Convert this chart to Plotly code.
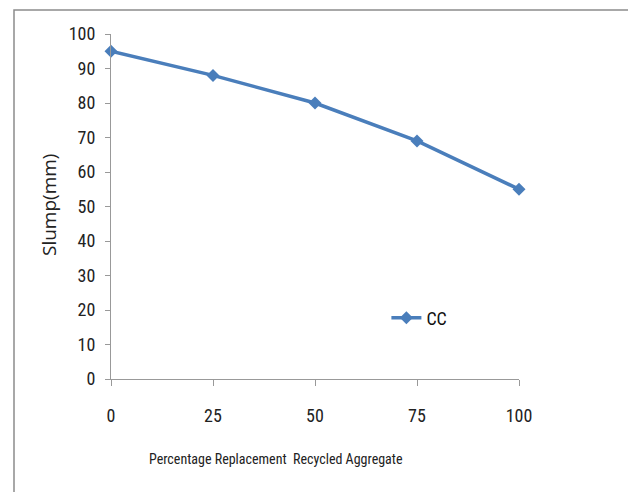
import plotly.graph_objects as go

replacement = [0, 25, 50, 75, 100]
slump_cc = [95, 88, 80, 69, 55]
x_ticks = [0, 25, 50, 75, 100]
y_ticks = [0, 10, 20, 30, 40, 50, 60, 70, 80, 90, 100]

FONT = "Roboto Condensed, Liberation Sans Narrow, sans-serif"
BLUE = "#4a7ebb"

fig = go.Figure()
fig.add_trace(go.Scatter(
    x=replacement, y=slump_cc, name="CC", mode="lines+markers",
    line=dict(color=BLUE, width=3.5),
    marker=dict(symbol="diamond", size=10, color=BLUE),
    cliponaxis=False,
))

fig.update_layout(
    width=628, height=492,
    margin=dict(l=111, r=109, t=34, b=113),
    paper_bgcolor="white", plot_bgcolor="white",
    font=dict(family=FONT, size=18, color="#222"),
    showlegend=True,
    legend=dict(x=0.675, y=0.177, xanchor="left", yanchor="middle",
                bgcolor="rgba(0,0,0,0)", font=dict(family=FONT, size=18, color="#111"),
                itemwidth=30),
    xaxis=dict(range=[0, 100], tickvals=x_ticks, ticktext=[str(v) for v in x_ticks],
               showgrid=False, zeroline=False, showline=True, linecolor="#999", linewidth=1,
               ticks="outside", ticklen=6, tickcolor="#999", ticklabelstandoff=14,
               tickfont=dict(family=FONT, size=18, color="#222")),
    yaxis=dict(range=[0, 100], tickvals=y_ticks,
               showgrid=False, zeroline=False, showline=True, linecolor="#999", linewidth=1,
               ticks="outside", ticklen=5, tickcolor="#999", ticklabelstandoff=6,
               tickfont=dict(family=FONT, size=18, color="#222")),
    shapes=[dict(type="rect", xref="paper", yref="paper",
                 x0=(14 - 111) / 408, x1=1.5, y0=-0.5, y1=(379 - 10) / 345,
                 line=dict(color="#8c8c8c", width=1.5), fillcolor="rgba(0,0,0,0)", layer="below")],
    annotations=[
        dict(text="Percentage Replacement  Recycled Aggregate", xref="paper", yref="paper",
             x=(276 - 111) / 408, y=(379 - 459) / 345, xanchor="center", yanchor="middle", showarrow=False,
             font=dict(family=FONT, size=14, color="#222")),
        dict(text="Slump(mm)", xref="paper", yref="paper", textangle=-90,
             x=(49 - 111) / 408, y=(379 - 205) / 345, xanchor="center", yanchor="middle",
             showarrow=False, font=dict(family="Open Sans, sans-serif", size=19, color="#222")),
    ],
)

fig.write_html("out.html")
